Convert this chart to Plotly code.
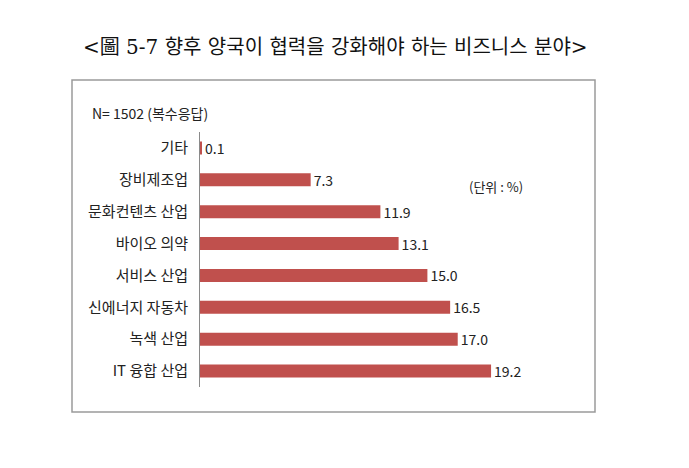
import plotly.graph_objects as go

categories = ["기타", "장비제조업", "문화컨텐츠 산업", "바이오 의약", "서비스 산업",
              "신에너지 자동차", "녹색 산업", "IT 융합 산업"]
values = [0.1, 7.3, 11.9, 13.1, 15.0, 16.5, 17.0, 19.2]

title_text = "<圖 5-7 향후 양국이 협력을 강화해야 하는 비즈니스 분야>"
n_text = "N= 1502 (복수응답)"
unit_text = "(단위 : %)"

FONT = "Noto Sans CJK KR"
W, H = 689, 468
L, R, T, B = 200, 110, 132, 81
pw, ph = W - L - R, H - T - B

def px_x(x):
    return (x - L) / pw

def px_y(y):
    return (H - B - y) / ph

fig = go.Figure(go.Bar(
    y=categories, x=values, orientation="h",
    marker=dict(color="#C0504D", line=dict(width=0)),
    width=0.41,
    texttemplate="%{x:.1f}", textposition="outside",
    constraintext="none",
    textfont=dict(family=FONT, size=14, color="#222"),
    cliponaxis=False,
))

fig.update_layout(
    width=W, height=H,
    margin=dict(l=L, r=R, t=T, b=B),
    paper_bgcolor="white", plot_bgcolor="white",
    showlegend=False,
    font=dict(family=FONT, color="#222"),
    xaxis=dict(range=[0, 25], visible=False, fixedrange=True),
    yaxis=dict(autorange=False, range=[7.5, -0.5], categoryorder="array",
               categoryarray=categories, showline=True, linecolor="#8a8a8a",
               linewidth=1, ticks="", showgrid=False, zeroline=False,
               tickfont=dict(family=FONT, size=15, color="#222"),
               ticklabelstandoff=8),
    shapes=[dict(type="rect", xref="paper", yref="paper",
                 x0=px_x(72), x1=px_x(595), y0=px_y(412), y1=px_y(80),
                 line=dict(color="#9a9a9a", width=1.5), fillcolor="rgba(0,0,0,0)",
                 layer="below")],
    annotations=[
        dict(text=title_text, xref="paper", yref="paper", x=px_x(335), y=px_y(47),
             xanchor="center", yanchor="middle", showarrow=False,
             font=dict(family="DejaVu Serif, Noto Sans CJK KR", size=20, color="#111")),
        dict(text=n_text, xref="paper", yref="paper", x=px_x(90), y=px_y(113),
             xanchor="left", yanchor="middle", showarrow=False,
             font=dict(family=FONT, size=14, color="#222")),
        dict(text=unit_text, xref="paper", yref="paper", x=px_x(467), y=px_y(186),
             xanchor="left", yanchor="middle", showarrow=False,
             font=dict(family=FONT, size=13, color="#222")),
    ],
)

fig.write_html("out.html")
